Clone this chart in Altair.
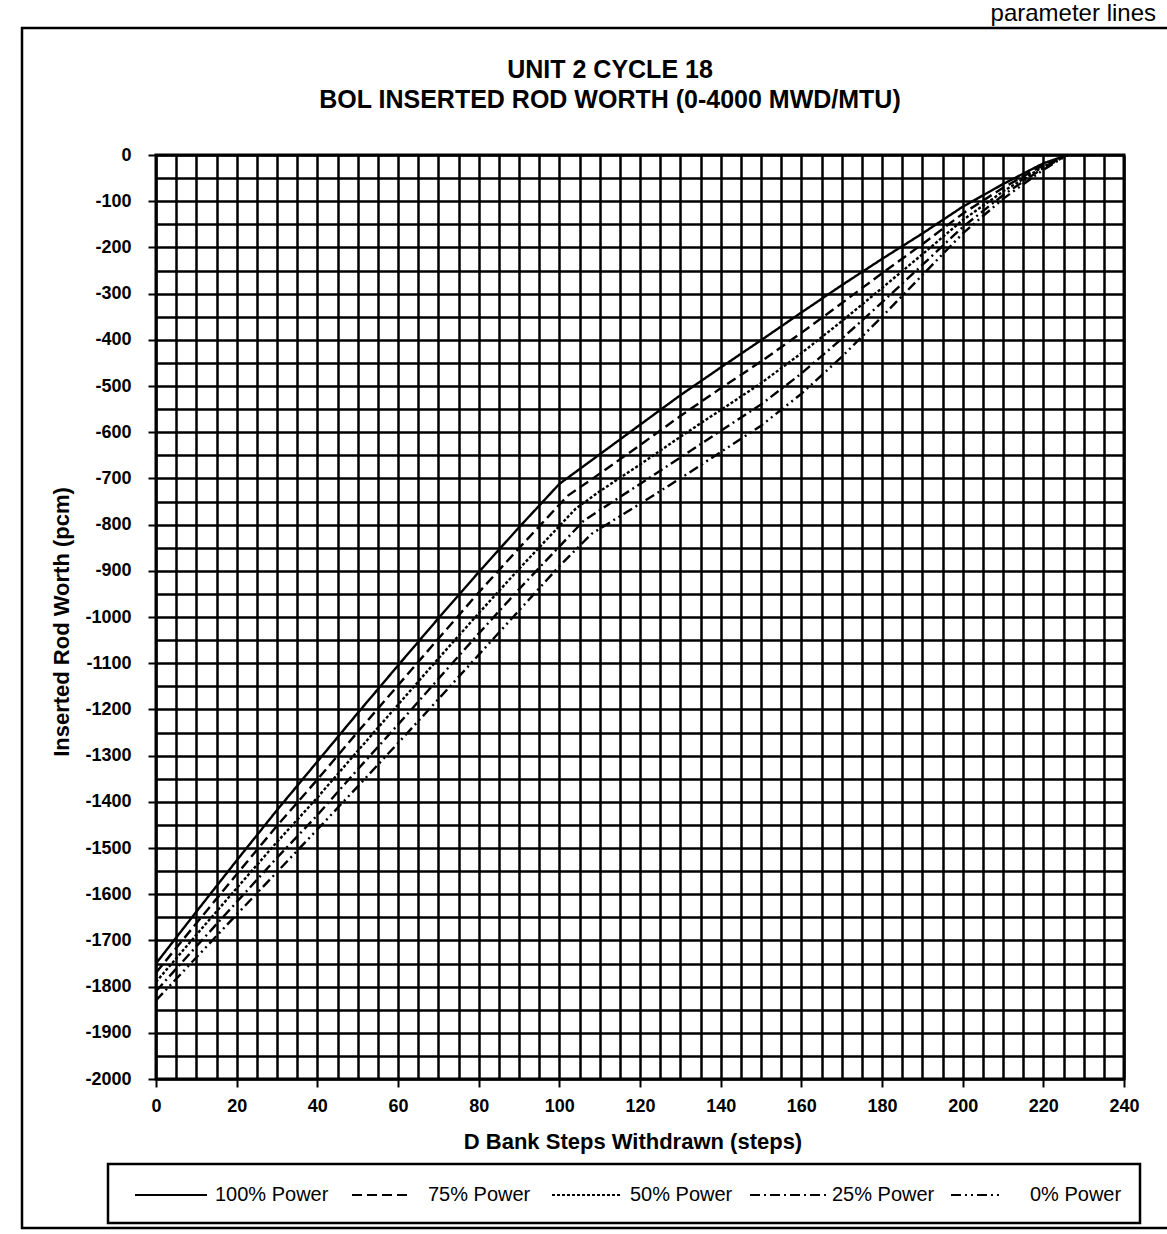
import altair as alt
import pandas as pd

# D bank steps withdrawn and inserted rod worth (pcm), one list pair per power level
STEPS_100 = [0, 10, 20, 30, 40, 50, 60, 70, 80, 90, 100, 110, 120, 130, 140, 150,
             160, 170, 180, 190, 200, 210, 220, 226]
WORTH_100 = [-1750, -1638, -1527, -1418, -1313, -1208, -1105, -1003, -903, -806, -712,
             -648, -584, -520, -460, -401, -341, -282, -225, -170, -112, -63, -18, 0]

STEPS_75 = [0, 10, 20, 30, 40, 50, 60, 70, 80, 90, 102, 110, 120, 130, 140, 150,
            160, 170, 180, 190, 200, 210, 220, 226]
WORTH_75 = [-1770, -1663, -1557, -1452, -1352, -1249, -1148, -1047, -947, -851, -738,
            -690, -628, -565, -505, -447, -385, -321, -256, -193, -127, -71, -22, 0]

STEPS_50 = [0, 10, 20, 30, 40, 50, 60, 70, 80, 90, 104, 110, 120, 130, 140, 150,
            160, 170, 180, 190, 200, 210, 220, 226]
WORTH_50 = [-1790, -1688, -1587, -1487, -1391, -1290, -1190, -1090, -992, -896, -766,
            -728, -670, -610, -552, -494, -429, -360, -288, -215, -141, -79, -25, 0]

STEPS_25 = [0, 10, 20, 30, 40, 50, 60, 70, 80, 90, 106, 110, 120, 130, 140, 150,
            160, 170, 180, 190, 200, 210, 220, 226]
WORTH_25 = [-1810, -1713, -1617, -1521, -1429, -1330, -1233, -1134, -1036, -940, -792,
            -769, -712, -655, -597, -540, -473, -398, -319, -238, -156, -87, -28, 0]

STEPS_0 = [0, 10, 20, 30, 40, 50, 60, 70, 80, 90, 100, 108, 120, 130, 140, 150,
           160, 170, 180, 190, 200, 210, 220, 226]
WORTH_0 = [-1830, -1737, -1644, -1552, -1460, -1367, -1273, -1178, -1082, -986, -890,
           -820, -755, -700, -643, -586, -517, -437, -350, -260, -170, -95, -32, 0]

SERIES = ["100% Power", "75% Power", "50% Power", "25% Power", "0% Power"]
DASHES = [[1, 0], [10, 5], [3, 2], [10, 4, 2, 4], [10, 4, 2, 4, 2, 4]]

X_TICKS = list(range(0, 241, 5))
Y_TICKS = list(range(-2000, 1, 50))

rows = []
for name, steps, worth in zip(
        SERIES,
        [STEPS_100, STEPS_75, STEPS_50, STEPS_25, STEPS_0],
        [WORTH_100, WORTH_75, WORTH_50, WORTH_25, WORTH_0]):
    for s, w in zip(steps, worth):
        rows.append({"step": s, "worth": w, "series": name})
df = pd.DataFrame(rows)

FONT = "Liberation Sans"

x_axis = alt.Axis(
    values=X_TICKS, grid=True, gridColor="black", gridWidth=2.5, gridOpacity=1,
    domain=False, ticks=True, tickColor="black", tickWidth=2, tickSize=8,
    tickOpacity={"condition": {"test": "datum.value % 20 === 0", "value": 1}, "value": 0},
    labelExpr="datum.value % 20 === 0 ? datum.label : ''",
    labelFont=FONT, labelFontSize=18, labelFontWeight="bold", labelColor="black",
    labelPadding=10, labelOverlap=False, labelFlush=False, title=None,
)
y_axis = alt.Axis(
    values=Y_TICKS, grid=True, gridColor="black", gridWidth=2.5, gridOpacity=1,
    domain=False, ticks=True, tickColor="black", tickWidth=2, tickSize=8,
    tickOpacity={"condition": {"test": "datum.value % 100 === 0", "value": 1}, "value": 0},
    labelExpr="datum.value % 100 === 0 ? (datum.value < 0 ? '-' + format(-datum.value, 'd') : '0') : ''",
    labelFont=FONT, labelFontSize=18, labelFontWeight="bold", labelColor="black",
    labelPadding=17, labelOverlap=False, labelFlush=False, title=None,
)

curves = alt.Chart(df).mark_line(color="black", strokeWidth=2.4).encode(
    x=alt.X("step:Q", scale=alt.Scale(domain=[0, 240], nice=False, zero=False), axis=x_axis),
    y=alt.Y("worth:Q", scale=alt.Scale(domain=[-2000, 0], nice=False, zero=False), axis=y_axis),
    strokeDash=alt.StrokeDash("series:N", scale=alt.Scale(domain=SERIES, range=DASHES), legend=None),
    detail="series:N",
)

one = pd.DataFrame({"k": [0]})


def label(txt, x, y, size, weight="bold", angle=0, align="center", baseline="middle"):
    opts = dict(text=txt, font=FONT, fontSize=size, fontWeight=weight,
                align=align, baseline=baseline, color="black")
    if angle:
        opts["angle"] = angle
    return alt.Chart(one).mark_text(**opts).encode(x=alt.value(x), y=alt.value(y))


def box(x0, x1, y0, y1, width):
    return alt.Chart(one).mark_rect(fillOpacity=0, stroke="black", strokeWidth=width).encode(
        x=alt.value(x0), x2=alt.value(x1), y=alt.value(y0), y2=alt.value(y1))


layers = [curves]

# page frame and heading
layers.append(box(-134, 1040, -127, 1073, 2.5))
layers.append(label("parameter lines", 1000, -134, 24, weight="normal", align="right",
                    baseline="alphabetic"))
layers.append(label("UNIT 2 CYCLE 18", 454, -85, 25))
layers.append(label("BOL INSERTED ROD WORTH  (0-4000 MWD/MTU)", 454, -55, 25))

# axis titles
layers.append(label("D Bank Steps Withdrawn  (steps)", 477, 987, 22))
layers.append(label("Inserted Rod Worth  (pcm)", -94, 467, 22, angle=270))

# legend box with line samples
LEG_LINE_X = [(-21, 51), (196, 256), (396, 466), (594, 670), (795, 846)]
LEG_TEXT_X = [59, 272, 474, 676, 874]
LEG_Y = 1040
layers.append(box(-48, 984, 1009, 1068, 2.5))
for name, dash, (lx0, lx1), tx in zip(SERIES, DASHES, LEG_LINE_X, LEG_TEXT_X):
    layers.append(
        alt.Chart(one).mark_rule(color="black", strokeWidth=2, strokeDash=dash).encode(
            x=alt.value(lx0), x2=alt.value(lx1), y=alt.value(LEG_Y))
    )
    layers.append(label(name, tx, LEG_Y, 20, weight="normal", align="left"))

chart = alt.layer(*layers).properties(
    width=968,
    height=924,
    autosize=alt.AutoSizeParams(type="none"),
    padding={"left": 156, "top": 155, "right": 43, "bottom": 155},
    background="white",
).configure_view(stroke="black", strokeWidth=3)

chart.save("out.html", embed_options={"renderer": "svg", "actions": False})
